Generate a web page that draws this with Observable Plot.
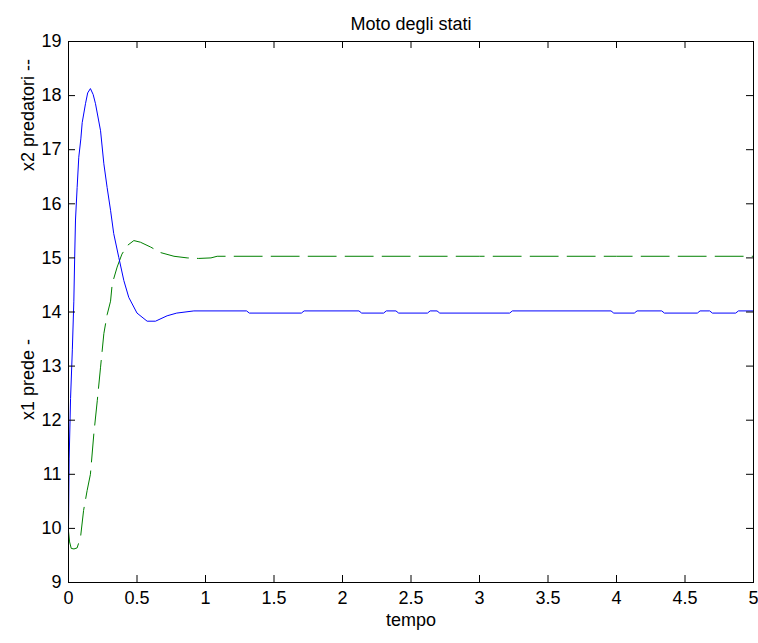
<!DOCTYPE html>
<html><head><meta charset="utf-8">
<script src="https://cdn.jsdelivr.net/npm/d3@7"></script>
<script src="https://cdn.jsdelivr.net/npm/@observablehq/plot@0.6"></script>
<style>body{margin:0;background:#fff;}</style>
</head><body><div id="chart"></div>
<script>
const title = "Moto degli stati";
const xLabel = "tempo";
const yLabelPrey = "x1 prede -";
const yLabelPred = "x2 predatori --";
const xTicks = [0, 0.5, 1, 1.5, 2, 2.5, 3, 3.5, 4, 4.5, 5];
const yTicks = [9, 10, 11, 12, 13, 14, 15, 16, 17, 18, 19];

// x1 prede (solid blue)
const tPrey  = [0, 0.005, 0.015, 0.028, 0.039, 0.045, 0.051, 0.063, 0.075, 0.09, 0.10, 0.124, 0.14, 0.16, 0.18, 0.197, 0.234, 0.258, 0.282, 0.307, 0.33, 0.367, 0.404, 0.44, 0.50, 0.574, 0.635, 0.72, 0.79, 0.915, 1.30, 1.32, 1.70, 1.72, 2.12, 2.14, 2.30, 2.32, 2.39, 2.41, 2.62, 2.64, 2.69, 2.71, 3.22, 3.24, 3.96, 3.98, 4.13, 4.15, 4.33, 4.35, 4.59, 4.61, 4.68, 4.70, 4.87, 4.89, 5.0];
const x1Prey = [10, 11.3, 12.4, 13.3, 14.2, 15.0, 15.7, 16.3, 16.86, 17.2, 17.5, 17.85, 18.05, 18.13, 18.02, 17.85, 17.35, 16.74, 16.3, 15.88, 15.45, 15.01, 14.58, 14.27, 13.98, 13.83, 13.83, 13.93, 13.98, 14.02, 14.02, 13.98, 13.98, 14.02, 14.02, 13.98, 13.98, 14.02, 14.02, 13.98, 13.98, 14.02, 14.02, 13.98, 13.98, 14.02, 14.02, 13.98, 13.98, 14.02, 14.02, 13.98, 13.98, 14.02, 14.02, 13.98, 13.98, 14.02, 14.02];

// x2 predatori (dashed green)
const tPred  = [0, 0.008, 0.02, 0.04, 0.063, 0.088, 0.11, 0.136, 0.16, 0.185, 0.21, 0.234, 0.258, 0.282, 0.307, 0.319, 0.355, 0.39, 0.43, 0.477, 0.525, 0.6, 0.67, 0.77, 0.866, 0.95, 1.04, 1.085, 1.5, 2, 2.5, 3, 3.5, 4, 4.5, 5];
const x2Pred = [9.95, 9.75, 9.63, 9.62, 9.64, 9.84, 10.33, 10.7, 11.0, 11.75, 12.36, 12.98, 13.6, 13.95, 14.2, 14.52, 14.83, 15.07, 15.23, 15.32, 15.29, 15.2, 15.1, 15.03, 15.0, 14.99, 15.0, 15.03, 15.03, 15.03, 15.03, 15.03, 15.03, 15.03, 15.03, 15.03];

const prey = tPrey.map((t, i) => ({t, v: x1Prey[i]}));
const pred = tPred.map((t, i) => ({t, v: x2Pred[i]}));

const W = 758, H = 643, mL = 68, mR = 5, mT = 41, mB = 61;
const fw = W - mL - mR, fh = H - mT - mB, tk = 7;

const plot = Plot.plot({
  width: W, height: H,
  marginLeft: mL, marginRight: mR, marginTop: mT, marginBottom: mB,
  style: {fontFamily: "'Liberation Sans', Arial, sans-serif", fontSize: "18px", background: "#fff", color: "#000"},
  x: {domain: [0, 5], label: null},
  y: {domain: [9, 19], label: null},
  marks: [
    Plot.line(pred, {x: "t", y: "v", stroke: "#008000", strokeWidth: 1, strokeDasharray: "28,9"}),
    Plot.line(prey, {x: "t", y: "v", stroke: "#0000ff", strokeWidth: 1}),
    Plot.tickX(xTicks, {x: d => d, insetTop: fh - tk, stroke: "#000"}),
    Plot.tickX(xTicks, {x: d => d, insetBottom: fh - tk, stroke: "#000"}),
    Plot.tickY(yTicks, {y: d => d, insetRight: fw - tk, stroke: "#000"}),
    Plot.tickY(yTicks, {y: d => d, insetLeft: fw - tk, stroke: "#000"}),
    Plot.frame({stroke: "#000"}),
    Plot.axisX(xTicks, {tickSize: 0, tickPadding: 9, tickFormat: d => String(d), fontSize: 18}),
    Plot.axisY(yTicks, {tickSize: 0, tickPadding: 7, tickFormat: d => String(d), fontSize: 18}),
    Plot.text([title], {text: d => d, frameAnchor: "top", dy: -24, fontSize: 18}),
    Plot.text([xLabel], {text: d => d, frameAnchor: "bottom", dy: 43, fontSize: 18}),
    Plot.text([yLabelPred], {text: d => d, frameAnchor: "left", dx: -40, dy: -141, rotate: -90, fontSize: 18}),
    Plot.text([yLabelPrey], {text: d => d, frameAnchor: "left", dx: -40, dy: 108, rotate: -90, fontSize: 18})
  ]
});
document.getElementById("chart").appendChild(plot);
</script>
</body></html>
